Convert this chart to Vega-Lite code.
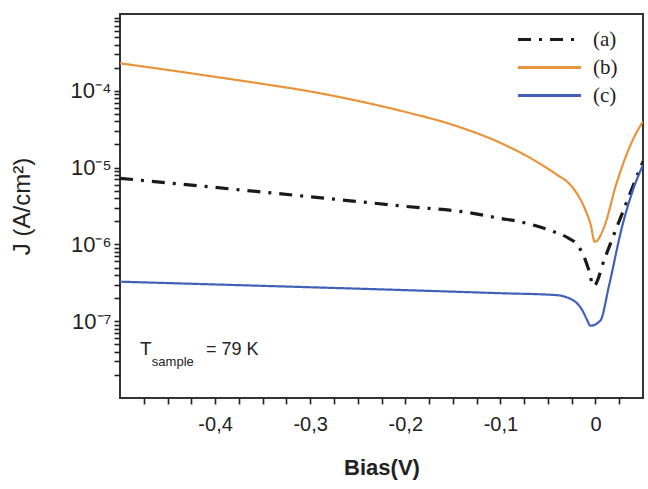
{
  "$schema": "https://vega.github.io/schema/vega-lite/v6.json",
  "width": 523,
  "height": 384,
  "autosize": "none",
  "padding": {"left": 120, "top": 14, "right": 5, "bottom": 91},
  "config": {
    "view": {"stroke": "#333333", "strokeWidth": 2},
    "font": "Liberation Sans",
    "axis": {"ticks": true, "tickColor": "#222222", "tickWidth": 1.6, "tickSize": 6, "tickOpacity": 1, "domain": false, "grid": false},
    "axisY": {"ticks": true, "tickColor": "#222222", "tickWidth": 1.6, "tickSize": 6}
  },
  "data": {"values": [
    {"s": "(a)", "V": -0.5, "J": 7.26e-6},
    {"s": "(a)", "V": -0.4, "J": 5.52e-6},
    {"s": "(a)", "V": -0.3, "J": 4.17e-6},
    {"s": "(a)", "V": -0.2, "J": 3.13e-6},
    {"s": "(a)", "V": -0.133, "J": 2.59e-6},
    {"s": "(a)", "V": -0.1, "J": 2.18e-6},
    {"s": "(a)", "V": -0.08, "J": 1.98e-6},
    {"s": "(a)", "V": -0.049, "J": 1.54e-6},
    {"s": "(a)", "V": -0.028, "J": 1.2e-6},
    {"s": "(a)", "V": -0.021, "J": 1.05e-6},
    {"s": "(a)", "V": -0.012, "J": 6.9e-7},
    {"s": "(a)", "V": -0.007, "J": 4.64e-7},
    {"s": "(a)", "V": -0.002, "J": 2.87e-7},
    {"s": "(a)", "V": 0.01, "J": 6.7e-7},
    {"s": "(a)", "V": 0.02, "J": 1.4e-6},
    {"s": "(a)", "V": 0.03, "J": 2.89e-6},
    {"s": "(a)", "V": 0.04, "J": 5.96e-6},
    {"s": "(a)", "V": 0.05, "J": 1.2e-5},
    {"s": "(b)", "V": -0.5, "J": 2.28e-4},
    {"s": "(b)", "V": -0.45, "J": 1.87e-4},
    {"s": "(b)", "V": -0.4, "J": 1.52e-4},
    {"s": "(b)", "V": -0.35, "J": 1.23e-4},
    {"s": "(b)", "V": -0.3, "J": 9.8e-5},
    {"s": "(b)", "V": -0.25, "J": 7.4e-5},
    {"s": "(b)", "V": -0.2, "J": 5.31e-5},
    {"s": "(b)", "V": -0.15, "J": 3.6e-5},
    {"s": "(b)", "V": -0.1, "J": 2.1e-5},
    {"s": "(b)", "V": -0.065, "J": 1.26e-5},
    {"s": "(b)", "V": -0.04, "J": 8.0e-6},
    {"s": "(b)", "V": -0.028, "J": 6.26e-6},
    {"s": "(b)", "V": -0.018, "J": 4.3e-6},
    {"s": "(b)", "V": -0.0105, "J": 2.8e-6},
    {"s": "(b)", "V": -0.005, "J": 1.8e-6},
    {"s": "(b)", "V": -0.0007, "J": 1.08e-6},
    {"s": "(b)", "V": 0.0105, "J": 1.88e-6},
    {"s": "(b)", "V": 0.021, "J": 5.6e-6},
    {"s": "(b)", "V": 0.031, "J": 1.3e-5},
    {"s": "(b)", "V": 0.04, "J": 2.4e-5},
    {"s": "(b)", "V": 0.05, "J": 4.0e-5},
    {"s": "(c)", "V": -0.5, "J": 3.27e-7},
    {"s": "(c)", "V": -0.364, "J": 2.92e-7},
    {"s": "(c)", "V": -0.227, "J": 2.6e-7},
    {"s": "(c)", "V": -0.098, "J": 2.31e-7},
    {"s": "(c)", "V": -0.042, "J": 2.19e-7},
    {"s": "(c)", "V": -0.024, "J": 1.89e-7},
    {"s": "(c)", "V": -0.014, "J": 1.4e-7},
    {"s": "(c)", "V": -0.0088, "J": 1.04e-7},
    {"s": "(c)", "V": -0.0053, "J": 8.73e-8},
    {"s": "(c)", "V": 0.0052, "J": 1.02e-7},
    {"s": "(c)", "V": 0.014, "J": 2.81e-7},
    {"s": "(c)", "V": 0.028, "J": 1.7e-6},
    {"s": "(c)", "V": 0.042, "J": 6.25e-6},
    {"s": "(c)", "V": 0.05, "J": 1.08e-5}
  ]},
  "encoding": {
    "x": {
      "field": "V", "type": "quantitative",
      "scale": {"domain": [-0.5, 0.05], "nice": false, "zero": false},
      "axis": {
        "values": [-0.475, -0.45, -0.425, -0.4, -0.375, -0.35, -0.325, -0.3, -0.275, -0.25, -0.225, -0.2, -0.175, -0.15, -0.125, -0.1, -0.075, -0.05, -0.025, 0, 0.025],
        "labelExpr": "abs(datum.value*10 - round(datum.value*10)) < 0.001 ? (abs(datum.value) < 0.001 ? '0' : '-0,' + round(abs(datum.value)*10)) : ''",
        "labelFontSize": 20, "labelColor": "#222222", "labelPadding": 10,
        "labelOverlap": false, "labelFlush": false,
        "title": "Bias(V)", "titleFontSize": 22, "titleFontWeight": "bold", "titleColor": "#222222", "titlePadding": 23
      }
    },
    "y": {
      "field": "J", "type": "quantitative",
      "scale": {"type": "log", "domain": [1e-8, 1e-3], "nice": false},
      "axis": {
        "values": [2e-8, 3e-8, 4e-8, 5e-8, 6e-8, 7e-8, 8e-8, 9e-8, 1e-7, 2e-7, 3e-7, 4e-7, 5e-7, 6e-7, 7e-7, 8e-7, 9e-7, 1e-6, 2e-6, 3e-6, 4e-6, 5e-6, 6e-6, 7e-6, 8e-6, 9e-6, 1e-5, 2e-5, 3e-5, 4e-5, 5e-5, 6e-5, 7e-5, 8e-5, 9e-5, 1e-4, 2e-4, 3e-4, 4e-4, 5e-4, 6e-4, 7e-4, 8e-4, 9e-4],
        "labelExpr": "abs(log(datum.value)/LN10 - round(log(datum.value)/LN10)) < 0.01 ? '10⁻' + ['⁰','¹','²','³','⁴','⁵','⁶','⁷','⁸','⁹'][-round(log(datum.value)/LN10)] : ''",
        "labelFontSize": 22, "labelColor": "#222222", "labelPadding": 3,
        "labelOverlap": false, "labelFlush": false,
        "title": "J (A/cm²)", "titleFontSize": 24, "titleFontWeight": "normal", "titleColor": "#222222", "titlePadding": 36
      }
    },
    "color": {
      "field": "s", "type": "nominal",
      "scale": {"domain": ["(a)", "(b)", "(c)"], "range": ["#1a1a1a", "#E8943A", "#4160B8"]},
      "legend": {
        "title": null, "orient": "none", "legendX": 412, "legendY": 8,
        "symbolType": "M-2,0H2", "symbolSize": 992, "symbolStrokeWidth": 2.8,
        "labelFont": "Liberation Serif", "labelFontSize": 21, "labelColor": "#222222",
        "labelOffset": 26, "rowPadding": -2, "padding": 0
      }
    },
    "strokeDash": {
      "field": "s", "type": "nominal",
      "scale": {"domain": ["(a)", "(b)", "(c)"], "range": [[13, 8, 3, 8], [1, 0], [1, 0]]},
      "legend": {
        "title": null, "orient": "none", "legendX": 412, "legendY": 8,
        "symbolType": "M-2,0H2", "symbolSize": 992, "symbolStrokeWidth": 2.8,
        "labelFont": "Liberation Serif", "labelFontSize": 21, "labelColor": "#222222",
        "labelOffset": 26, "rowPadding": -2, "padding": 0
      }
    }
  },
  "layer": [
    {
      "transform": [{"filter": "datum.s == '(a)'"}],
      "mark": {"type": "line", "strokeWidth": 3.2, "clip": true, "interpolate": "monotone"}
    },
    {
      "transform": [{"filter": "datum.s != '(a)'"}],
      "mark": {"type": "line", "strokeWidth": 2.2, "clip": true, "interpolate": "monotone"}
    },
    {
      "transform": [{"filter": "datum.s == '(a)' && datum.V == -0.5"}],
      "mark": {"type": "text", "text": "T", "align": "left", "baseline": "alphabetic", "fontSize": 19, "fill": "#222222"},
      "encoding": {"x": {"datum": -0.479}, "y": {"datum": 3.6e-8}, "color": {"value": "#222222"}, "strokeDash": {"value": [1, 0]}}
    },
    {
      "transform": [{"filter": "datum.s == '(a)' && datum.V == -0.5"}],
      "mark": {"type": "text", "text": "sample", "align": "left", "baseline": "alphabetic", "fontSize": 13, "fill": "#222222"},
      "encoding": {"x": {"datum": -0.4665}, "y": {"datum": 2.6e-8}, "color": {"value": "#222222"}, "strokeDash": {"value": [1, 0]}}
    },
    {
      "transform": [{"filter": "datum.s == '(a)' && datum.V == -0.5"}],
      "mark": {"type": "text", "text": "= 79 K", "align": "left", "baseline": "alphabetic", "fontSize": 18, "fill": "#222222"},
      "encoding": {"x": {"datum": -0.4095}, "y": {"datum": 3.6e-8}, "color": {"value": "#222222"}, "strokeDash": {"value": [1, 0]}}
    }
  ]
}
